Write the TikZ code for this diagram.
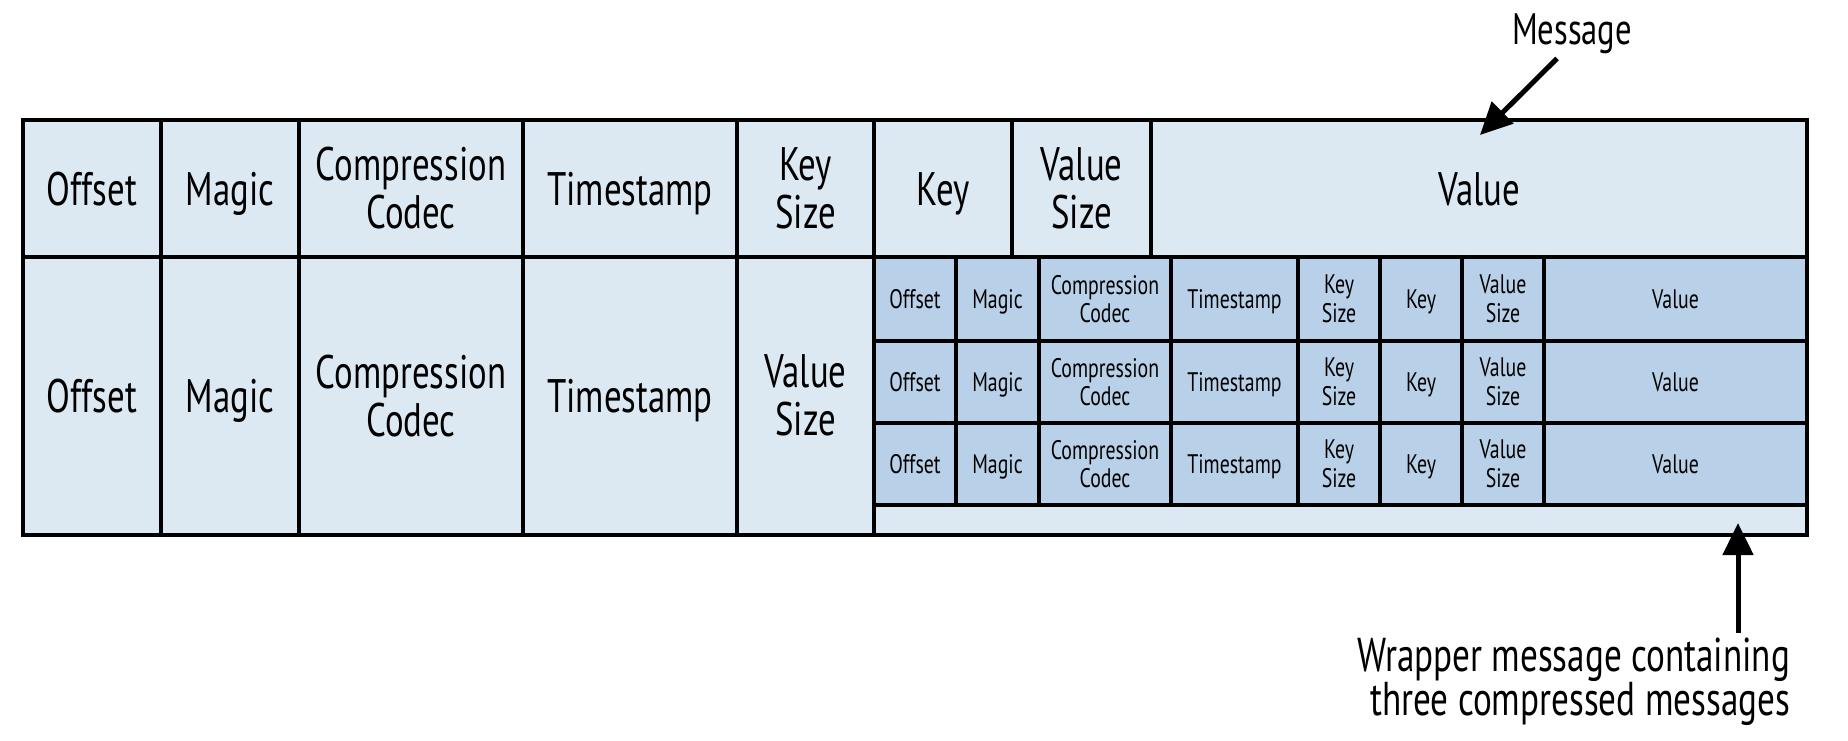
\documentclass[tikz,border=0pt]{standalone}
\usepackage{fontspec}
\usetikzlibrary{arrows.meta}
\newfontfamily\fieldfont{PT Sans}[FakeStretch=0.74]
\definecolor{cellpale}{RGB}{220,232,242}
\definecolor{cellblue}{RGB}{185,209,232}

% name, x1, y1, x2, y2, style, text
\newcommand\fieldcell[7]{%
  \pgfmathsetmacro\fcw{#4-(#2)}%
  \pgfmathsetmacro\fch{#5-(#3)}%
  \node[#6, minimum width=\fcw pt, minimum height=\fch pt, anchor=north west] (#1) at (#2,#3) {#7};}

% one compressed inner message: row index, top, bottom
\newcommand\innerrow[3]{%
  \fieldcell{m#1off}{874}{#2}{956}{#3}{smallsingle}{Offset}
  \fieldcell{m#1mag}{956}{#2}{1039}{#3}{smallsingle}{Magic}
  \fieldcell{m#1codec}{1039}{#2}{1171}{#3}{smallfield}{Compression\\Codec}
  \fieldcell{m#1ts}{1171}{#2}{1298}{#3}{smallsingle}{Timestamp}
  \fieldcell{m#1ksz}{1298}{#2}{1380}{#3}{smallfield}{Key\\Size}
  \fieldcell{m#1key}{1380}{#2}{1462}{#3}{smallsingle}{Key}
  \fieldcell{m#1vsz}{1462}{#2}{1544}{#3}{smallfield}{Value\\Size}
  \fieldcell{m#1val}{1544}{#2}{1807}{#3}{smallsingle}{Value}}

\begin{document}
\begin{tikzpicture}[x=1pt,y=-1pt,
  framed/.style={draw=black, line width=4pt, inner sep=0pt, outer sep=0pt, align=center, text=black},
  bigfield/.style={framed, fill=cellpale, font=\fieldfont\fontsize{47}{48}\selectfont},
  bigsingle/.style={bigfield, text height=33pt, text depth=0pt},
  smallfield/.style={framed, fill=cellblue, font=\fieldfont\fontsize{26.8}{28.5}\selectfont},
  smallsingle/.style={smallfield, text height=18.8pt, text depth=0pt},
  note/.style={inner sep=0pt, outer sep=0pt, text=black},
  pointer/.style={line width=5pt, -{Triangle[length=32pt,width=30pt]}}]

\useasboundingbox (0,0) rectangle (1848,740);

% top row: the message fields
\fieldcell{toff}{22.5}{120}{161}{257}{bigsingle}{Offset}
\fieldcell{tmag}{161}{120}{299}{257}{bigsingle}{Magic}
\fieldcell{tcodec}{299}{120}{523}{257}{bigfield}{Compression\\Codec}
\fieldcell{tts}{523}{120}{737}{257}{bigsingle}{Timestamp}
\fieldcell{tksz}{737}{120}{874}{257}{bigfield}{Key\\Size}
\fieldcell{tkey}{874}{120}{1012}{257}{bigsingle}{Key}
\fieldcell{tvsz}{1012}{120}{1151}{257}{bigfield}{Value\\Size}
\fieldcell{tval}{1151}{120}{1807}{257}{bigsingle}{Value}

% bottom row: the wrapper message
\fieldcell{boff}{22.5}{257}{161}{534.5}{bigsingle}{Offset}
\fieldcell{bmag}{161}{257}{299}{534.5}{bigsingle}{Magic}
\fieldcell{bcodec}{299}{257}{523}{534.5}{bigfield}{Compression\\Codec}
\fieldcell{bts}{523}{257}{737}{534.5}{bigsingle}{Timestamp}
\fieldcell{bvsz}{737}{257}{874}{534.5}{bigfield}{Value\\Size}
\fieldcell{bval}{874}{257}{1807}{534.5}{bigfield}{}

% the three compressed messages inside the wrapper value
\innerrow{1}{257}{341}
\innerrow{2}{341}{423}
\innerrow{3}{423}{505}

% annotations
\node[note, font=\fieldfont\fontsize{44}{46}\selectfont, text height=30pt, text depth=0pt] (msg) at (1572,29.5) {Message};
\coordinate (msgtip) at (1480,135);
\draw[pointer] ([xshift=-15pt,yshift=-14pt]msg.south) -- (msgtip);

\node[note, align=right, anchor=north east, font=\fieldfont\fontsize{47.5}{44}\selectfont] (wrapnote) at (1790,638) {Wrapper message containing\\three compressed messages};
\coordinate (wraptip) at (1738,523);
\draw[pointer] ([xshift=-52pt,yshift=5pt]wrapnote.north east) -- (wraptip);
\end{tikzpicture}
\end{document}
